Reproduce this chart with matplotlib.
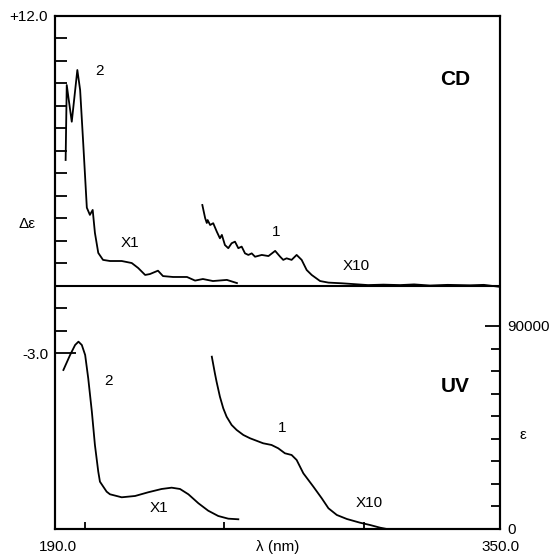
import matplotlib
matplotlib.use("Agg")
import matplotlib.pyplot as plt
from matplotlib.ticker import FixedLocator

plt.rcParams['font.family'] = ['Liberation Sans', 'DejaVu Sans']

# CD spectra (delta epsilon), curve 2 shown X1, curve 1 shown X10
cd2_wl = [193.1, 193.5, 195.3, 197.3, 198.3, 199.4, 200.7, 201.8, 202.8, 203.6,
          204.8, 206.5, 209.0, 213.2, 216.8, 219.1, 221.6, 223.3, 226.2, 228.0,
          231.6, 236.6, 239.5, 242.3, 245.9, 250.9, 254.5]
cd2_de = [5.6, 8.93, 7.30, 9.6, 8.71, 6.36, 3.48, 3.16, 3.38, 2.36,
          1.47, 1.16, 1.11, 1.11, 1.02, 0.80, 0.49, 0.53, 0.68, 0.44,
          0.40, 0.40, 0.24, 0.31, 0.22, 0.27, 0.13]

cd1_wl = [242.1, 243.1, 243.7, 244.0, 244.9, 246.0, 247.3, 248.4, 249.1, 250.2,
          251.4, 252.6, 253.8, 255.0, 256.2, 257.4, 258.6, 259.8, 261.0, 263.4,
          265.8, 268.2, 270.0, 271.1, 272.3, 274.1, 275.9, 277.7, 279.5, 281.3,
          284.3, 287.3, 292.1, 296.8, 301.5, 307.0, 313.0, 318.0, 323.7, 330.0,
          338.0, 343.0, 348.8]
cd1_de = [3.60, 3.02, 2.80, 2.93, 2.71, 2.79, 2.41, 2.12, 2.27, 1.82,
          1.68, 1.90, 1.97, 1.68, 1.75, 1.45, 1.38, 1.45, 1.30, 1.38,
          1.33, 1.56, 1.30, 1.16, 1.23, 1.16, 1.38, 1.16, 0.71, 0.49,
          0.22, 0.15, 0.12, 0.08, 0.04, 0.06, 0.04, 0.07, 0.02, 0.05,
          0.03, 0.05, -0.04]

# UV spectra (epsilon)
uv2_wl = [192.3, 194.7, 196.5, 197.7, 198.9, 200.1, 201.2, 202.5, 203.6, 204.8,
          205.4, 206.6, 207.8, 209.0, 213.2, 218.0, 222.7, 227.5, 231.1, 234.1,
          237.1, 240.7, 244.2, 247.8, 251.4, 255.0]
uv2_eps = [70480, 77130, 81560, 83030, 81560, 77130, 66800, 52000, 37240, 25400,
           20970, 18750, 16540, 15380, 14050, 14630, 16270, 17730, 18310, 17730,
           15380, 11390, 8110, 5760, 4570, 4300]

uv1_wl = [245.5, 246.6, 247.2, 248.4, 249.6, 250.8, 252.6, 254.4, 256.8, 259.2,
          263.9, 266.9, 269.3, 271.7, 274.1, 275.9, 278.3, 281.9, 284.9, 287.3,
          290.3, 293.9, 298.6, 302.2, 305.8, 308.2]
uv1_eps = [76380, 69020, 65300, 58650, 53500, 49780, 46100, 43890, 41670, 40210,
           37990, 37240, 35770, 33560, 32800, 30590, 24690, 18750, 13610, 9180,
           6210, 4430, 2790, 1770, 580, 0]

fig = plt.figure(figsize=(5.53, 5.57), dpi=100)
ax = fig.add_axes([0.0995, 0.0503, 0.8047, 0.921])
uv = ax.twinx()

lw = 1.3
ax.plot(cd2_wl, cd2_de, color='black', lw=lw, solid_joinstyle='round')
ax.plot(cd1_wl, cd1_de, color='black', lw=lw, solid_joinstyle='round')
ax.axhline(0, color='black', lw=1.5)
uv.plot(uv2_wl, uv2_eps, color='black', lw=lw, solid_joinstyle='round')
uv.plot(uv1_wl, uv1_eps, color='black', lw=lw, solid_joinstyle='round')

ax.set_xlim(189.3, 348.8)
ax.set_ylim(-10.8, 12)
uv.set_ylim(0, 227400)

for a in (ax, uv):
    for s in a.spines.values():
        s.set_linewidth(1.5)

# x ticks
ax.xaxis.set_major_locator(FixedLocator([200, 250, 300]))
ax.set_xticklabels([])
ax.tick_params(axis='x', direction='in', length=5, width=1.3)

# left axis ticks
ax.yaxis.set_major_locator(FixedLocator([-3, 12]))
ax.set_yticklabels(['-3.0', '+12.0'])
ax.yaxis.set_minor_locator(FixedLocator(list(range(-2, 12))))
ax.tick_params(axis='y', which='major', direction='in', length=15, width=1.3,
               pad=5, labelsize=11)
ax.tick_params(axis='y', which='minor', direction='in', length=8.5, width=1.3)

# right axis ticks
uv.yaxis.set_major_locator(FixedLocator([0, 90000]))
uv.set_yticklabels(['0', '90000'])
uv.yaxis.set_minor_locator(FixedLocator(list(range(10000, 90000, 10000))))
uv.tick_params(axis='y', which='major', direction='in', length=11, width=1.3,
               pad=5, labelsize=11)
uv.tick_params(axis='y', which='minor', direction='in', length=6.5, width=1.3)

# axis labels
ax.text(0.007, -0.035, '190.0', transform=ax.transAxes, ha='center', va='center', fontsize=11)
ax.text(1.0, -0.035, '350.0', transform=ax.transAxes, ha='center', va='center', fontsize=11)
ax.text(0.501, -0.035, 'λ (nm)', transform=ax.transAxes, ha='center', va='center', fontsize=11)
ax.text(-0.063, 0.595, 'Δε', transform=ax.transAxes, ha='center', va='center', fontsize=11)
ax.text(1.052, 0.183, 'ε', transform=ax.transAxes, ha='center', va='center', fontsize=11)

# curve annotations
ax.text(205.1, 9.56, '2', ha='center', va='center', fontsize=11)
ax.text(216.2, 1.91, 'X1', ha='center', va='center', fontsize=11)
ax.text(268.5, 2.4, '1', ha='center', va='center', fontsize=11)
ax.text(297.2, 0.89, 'X10', ha='center', va='center', fontsize=11)
ax.text(332.7, 9.16, 'CD', ha='center', va='center', fontsize=15, fontweight='bold')

uv.text(208.3, 65600, '2', ha='center', va='center', fontsize=11)
uv.text(226.6, 9310, 'X1', ha='center', va='center', fontsize=11)
uv.text(270.7, 44770, '1', ha='center', va='center', fontsize=11)
uv.text(301.8, 11530, 'X10', ha='center', va='center', fontsize=11)
uv.text(332.7, 62950, 'UV', ha='center', va='center', fontsize=15, fontweight='bold')

fig.savefig('out.png', dpi=100)
